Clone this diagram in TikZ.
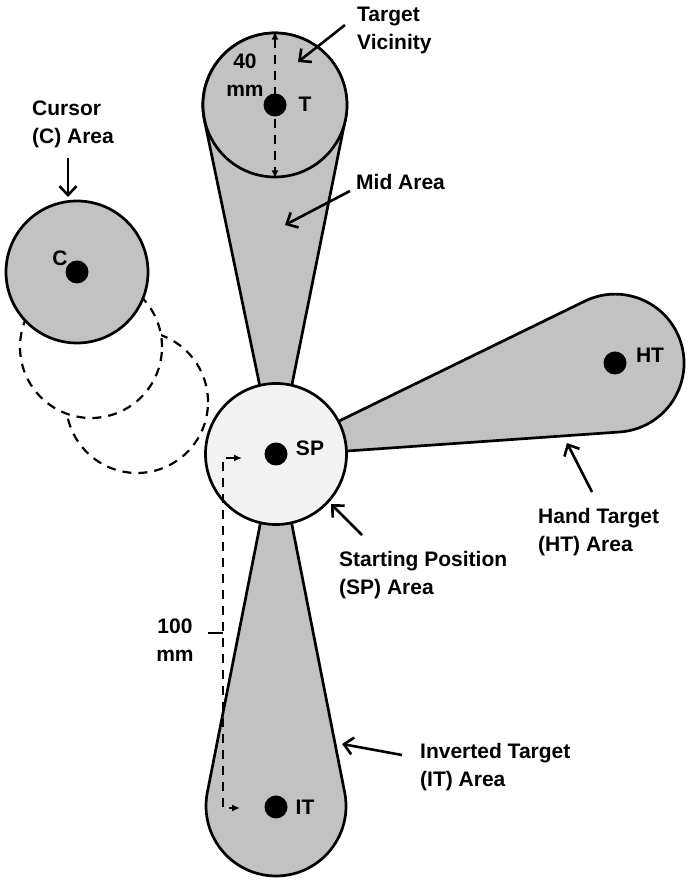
\documentclass[tikz,border=0pt]{standalone}
\usepackage{fontspec}
\setmainfont{Liberation Sans}
\usetikzlibrary{arrows.meta}

\definecolor{areagray}{gray}{0.76}
\definecolor{startgray}{gray}{0.95}

\tikzset{
    area/.style={draw, line width=2.7pt, fill=areagray},
    ghost/.style={draw, circle, line width=2.2pt, dash pattern=on 9pt off 7pt, minimum size=142pt, inner sep=0pt},
    pointer/.style={line width=2.6pt, -{Straight Barb[length=9pt,width=17pt]}},
    dimline/.style={line width=2.2pt, dash pattern=on 9pt off 7pt, {Latex[length=8pt,width=7pt]}-{Latex[length=8pt,width=7pt]}},
    dot/.style={circle, fill, inner sep=0pt, minimum size=23pt},
    tag/.style={font=\fontsize{21}{28}\selectfont\bfseries, inner sep=0pt},
    caption/.style={tag, align=left, anchor=base west},
}

% tapered area from the start position out to a round end
\newcommand{\petal}[3]{% angle, distance, end radius
    \begin{scope}[shift={(spc)}, rotate=#1]
        \filldraw[area] (0,2) -- ({#2+#3*cos(101)},{#3*sin(101)})
            arc[start angle=101, end angle=-101, radius=#3] -- (0,-2) -- cycle;
    \end{scope}}

\begin{document}
\begin{tikzpicture}[x=1pt, y=1pt]
    \useasboundingbox (0,0) rectangle (693,886);
    %
    % cursor and its earlier positions
    \node[ghost] (c2) at (137,484) {};
    \node[ghost, fill=white] (c1) at (91,539) {};
    \node[area, circle, minimum size=142pt] (c) at (77,614) {};
    %
    % areas
    \coordinate (spc) at (276,432);
    \petal{90.2}{349}{72}
    \petal{15}{351}{69}
    \petal{-90}{352}{70}
    \node[area, circle, fill=startgray, minimum size=141pt] (sp) at (spc) {};
    \node[area, circle, minimum size=144pt] (t) at (275,781) {};
    %
    % 40 mm
    \draw[dimline] (t.north) -- (t.south);
    \node[tag, align=center, anchor=base] (d40) at (245,789) {40\\mm};
    %
    % positions
    \node[dot] (tdot)  at (t) {};
    \node[dot] (spdot) at (sp) {};
    \node[dot] (htdot) at (615,523) {};
    \node[dot] (itdot) at (276,79) {};
    \node[dot] (cdot)  at (c) {};
    \node[tag] (lt)  at (305,782) {T};
    \node[tag] (lsp) at (310,438) {SP};
    \node[tag] (lht) at (650,531) {HT};
    \node[tag] (lit) at (305,79) {IT};
    \node[tag] (lc)  at (60,628) {C};
    %
    % 100 mm
    \coordinate (dTop) at (223,428);
    \coordinate (dBot) at (223,78);
    \draw[dimline] ([xshift=19pt]dTop) -- (dTop) -- (dBot) -- ([xshift=17pt]dBot);
    \node[tag, align=center, anchor=base] (d100) at (175,224) {100\\mm};
    \draw[line width=2.2pt] (208,253) -- (dBot |- 0,253);
    %
    % captions
    \node[caption] (tv)  at (357,836) {Target\\Vicinity};
    \node[caption] (mid) at (356,696) {Mid Area};
    \node[caption] (cur) at (32,742)  {Cursor\\(C) Area};
    \node[caption] (hta) at (538,334) {Hand Target\\(HT) Area};
    \node[caption] (spa) at (339,291) {Starting Position\\(SP) Area};
    \node[caption] (ita) at (420,99)  {Inverted Target\\(IT) Area};
    %
    \draw[pointer] (345,861) -- (298,824);
    \draw[pointer] (350,695) -- (285,661);
    \draw[pointer] (68,728)  -- (68,689);
    \draw[pointer] (592,394) -- (567,443);
    \draw[pointer] (362,351) -- (331,382);
    \draw[pointer] (402,131) -- (342,142);
\end{tikzpicture}
\end{document}
